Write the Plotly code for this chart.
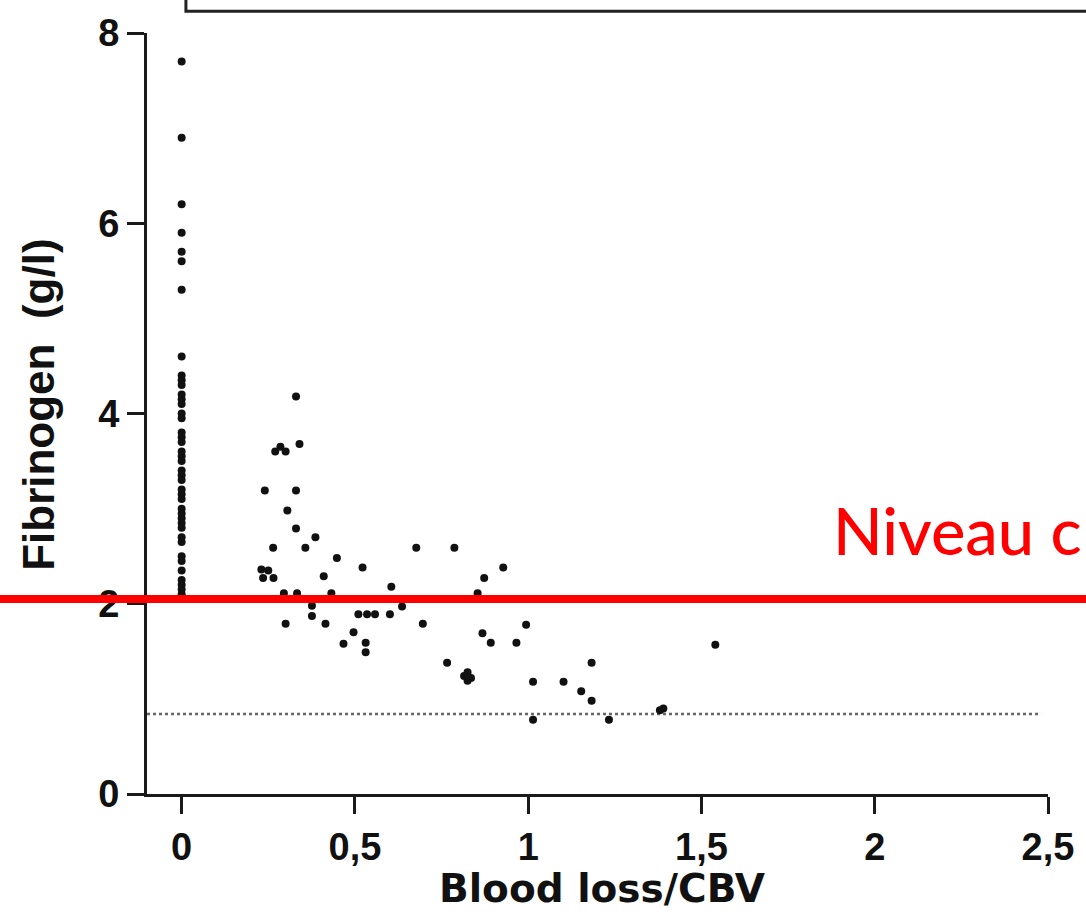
import plotly.graph_objects as go

# Blood loss relative to circulating blood volume (CBV) vs. fibrinogen level
loss_zero = [0.0] * 42
fib_zero = [7.7, 6.9, 6.2, 5.9, 5.7, 5.6, 5.3, 4.6, 4.4, 4.35, 4.3, 4.2, 4.15, 4.1,
            4.0, 3.95, 3.8, 3.75, 3.7, 3.6, 3.55, 3.5, 3.4, 3.35, 3.3, 3.2, 3.15, 3.1,
            3.0, 2.95, 2.9, 2.85, 2.8, 2.7, 2.65, 2.5, 2.45, 2.35, 2.25, 2.2, 2.15, 2.1]

loss_bleed = [0.33, 0.27, 0.285, 0.30, 0.34, 0.24, 0.33, 0.305, 0.33, 0.386,
              0.264, 0.357, 0.677, 0.787, 0.448, 0.522, 0.928, 0.23, 0.25, 0.235,
              0.265, 0.41, 0.873, 0.605, 0.295, 0.333, 0.432, 0.854, 0.376, 0.376,
              0.636, 0.30, 0.415, 0.696, 0.994, 0.51, 0.535, 0.558, 0.601, 0.496,
              0.467, 0.531, 0.531, 0.868, 0.892, 0.966, 0.766, 0.815, 0.825, 0.835,
              0.825, 1.014, 1.102, 1.183, 1.153, 1.183, 1.014, 1.233, 1.38, 1.39, 1.54]
fib_bleed = [4.18, 3.60, 3.65, 3.60, 3.68, 3.19, 3.19, 2.98, 2.79, 2.70,
             2.59, 2.59, 2.59, 2.59, 2.48, 2.38, 2.38, 2.36, 2.35, 2.27,
             2.27, 2.29, 2.27, 2.18, 2.11, 2.11, 2.11, 2.11, 1.98, 1.87,
             1.97, 1.79, 1.79, 1.79, 1.78, 1.89, 1.89, 1.89, 1.89, 1.70,
             1.58, 1.59, 1.49, 1.69, 1.59, 1.59, 1.38, 1.24, 1.28, 1.22,
             1.19, 1.18, 1.18, 1.38, 1.08, 0.98, 0.78, 0.78, 0.88, 0.90, 1.57]

x_ticks = [0, 0.5, 1, 1.5, 2, 2.5]
x_tick_text = ["0", "0,5", "1", "1,5", "2", "2,5"]
y_ticks = [0, 2, 4, 6, 8]
y_tick_text = ["0", "2", "4", "6", "8"]

threshold_dotted = 0.84    # lower dotted reference level
critical_level = 2.05      # red "critical level" marker line
dotted_x_end = 2.48

fig = go.Figure()
fig.add_trace(go.Scatter(
    x=loss_zero + loss_bleed, y=fib_zero + fib_bleed, mode="markers",
    marker=dict(color="#111111", size=8, symbol="circle"),
    showlegend=False, cliponaxis=False,
))

# dotted reference line
fig.add_shape(type="line", xref="x", yref="y", x0=-0.1, x1=dotted_x_end,
              y0=threshold_dotted, y1=threshold_dotted,
              line=dict(color="#666666", width=2.5, dash="dot"), layer="below")

# critical level line spanning the whole width
fig.add_shape(type="line", xref="paper", yref="y", x0=-0.3, x1=1.2,
              y0=critical_level, y1=critical_level,
              line=dict(color="#ff0000", width=8))

# edge of the legend box at the top
fig.add_shape(type="rect", xref="paper", yref="paper", x0=0.0432, x1=1.3,
              y0=1.0285, y1=1.2, line=dict(color="#222222", width=3))

axis_font = dict(family="Liberation Sans, Arial, sans-serif", size=38,
                 color="#111111", weight="bold")

fig.update_xaxes(range=[-0.1, 2.5], tickvals=x_ticks, ticktext=x_tick_text,
                 showline=True, linecolor="#1a1a1a", linewidth=3,
                 ticks="outside", ticklen=17, tickwidth=2.5, tickcolor="#1a1a1a",
                 showgrid=False, zeroline=False, tickfont=axis_font)
fig.update_yaxes(range=[0, 8], tickvals=y_ticks, ticktext=y_tick_text,
                 showline=True, linecolor="#1a1a1a", linewidth=3,
                 ticks="outside", ticklen=17, tickwidth=2.5, tickcolor="#1a1a1a",
                 showgrid=False, zeroline=False, tickfont=axis_font)

fig.add_annotation(text="Blood loss/CBV", xref="paper", yref="paper",
                   x=0.5055, y=-0.124, xanchor="center", yanchor="middle",
                   showarrow=False,
                   font=dict(family="DejaVu Sans, sans-serif", size=39,
                             color="#111111", weight="bold"))
fig.add_annotation(text="Fibrinogen\u00a0\u00a0(g/l)", xref="paper", yref="paper",
                   x=-0.1207, y=0.5117, xanchor="center", yanchor="middle",
                   textangle=-90, showarrow=False,
                   font=dict(family="Liberation Sans, Arial, sans-serif", size=44,
                             color="#111111", weight="bold"))
fig.add_annotation(text="Niveau c", xref="paper", yref="paper",
                   x=0.7597, y=0.347, xanchor="left", yanchor="middle",
                   showarrow=False,
                   font=dict(family="Comic Sans MS, Lato, sans-serif", size=65,
                             color="#ff0000", weight=500))

fig.update_layout(width=1086, height=922,
                  margin=dict(l=147, r=36, t=28, b=128),
                  paper_bgcolor="white", plot_bgcolor="white")

fig.write_html("out.html")
